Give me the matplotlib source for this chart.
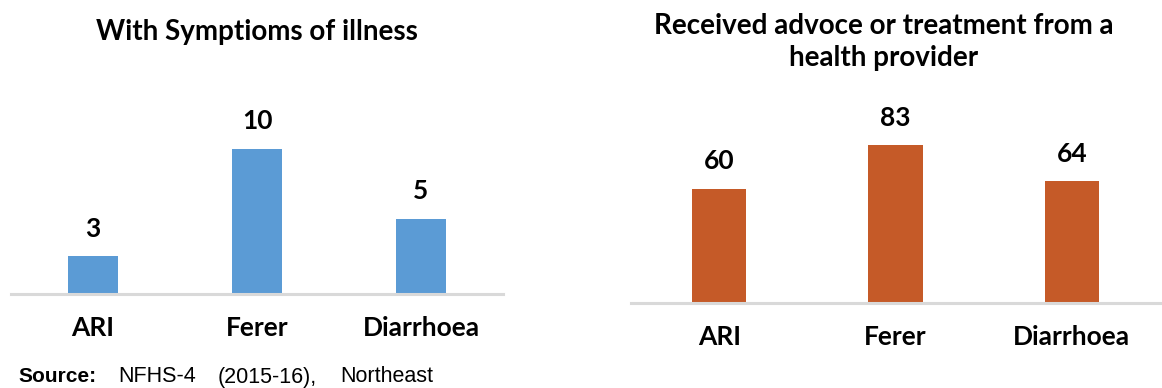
import matplotlib.pyplot as plt

# data
categories = ["ARI", "Ferer", "Diarrhoea"]
symptoms = [2.6, 10.0, 5.2]       # labelled 3, 10, 5
treatment = [60, 83, 64]

title_left = "With Symptioms of illness"
title_right = "Received advoce or treatment from a\nhealth provider"
source_parts = ["NFHS-4", "(2015-16),", "Northeast"]

BLUE = "#5B9BD5"
ORANGE = "#C55A28"
AXIS_GREY = "#D9D9D9"
FONT = ["Lato", "DejaVu Sans"]

W, H = 1162, 388
fig = plt.figure(figsize=(W / 100, H / 100), dpi=100)


def px_axes(x0, x1, y_base, y_top):
    # pixel box (from top-left) -> figure fraction
    return fig.add_axes([x0 / W, (H - y_base) / H, (x1 - x0) / W, (y_base - y_top) / H])


def bar_panel(ax, values, color, ymax, fmt):
    x = range(len(categories))
    bars = ax.bar(x, values, width=0.31, color=color, zorder=2)
    ax.set_xlim(-0.5, len(categories) - 0.5)
    ax.set_ylim(0, ymax)
    for s in ["top", "right", "left"]:
        ax.spines[s].set_visible(False)
    ax.spines["bottom"].set_color(AXIS_GREY)
    ax.spines["bottom"].set_linewidth(2.2)
    ax.set_yticks([])
    ax.set_xticks(list(x))
    ax.set_xticklabels(categories, fontsize=19, fontweight="bold", family=FONT)
    ax.tick_params(axis="x", length=0, pad=16)
    for b, v in zip(bars, values):
        ax.annotate(fmt(v), (b.get_x() + b.get_width() / 2, v), xytext=(0, 20),
                    textcoords="offset points", ha="center", va="center",
                    fontsize=19, fontweight="bold", family=FONT)


# left panel: 14.5 px per unit, baseline at y=294
ax1 = px_axes(11, 503, 294, 294 - 14.5 * 12)
bar_panel(ax1, symptoms, BLUE, 12, lambda v: f"{round(v):d}")

# right panel: 1.9 px per unit, baseline at y=303
ax2 = px_axes(631, 1160, 303, 303 - 1.9 * 90)
bar_panel(ax2, treatment, ORANGE, 90, lambda v: f"{v}")

fig.text(257 / W, 1 - 32 / H, title_left, ha="center", va="center",
         fontsize=20, fontweight="bold", family=FONT)
fig.text(884 / W, 1 - 42 / H, title_right, ha="center", va="center",
         fontsize=20, fontweight="bold", family=FONT, linespacing=1.3)

# source line, spaced out as in the original
fig.text(18 / W, 1 - 377 / H, "Source:", ha="left", va="center",
         fontsize=15, fontweight="bold", family="Liberation Sans")
for xp, part in zip([118, 218, 340], source_parts):
    fig.text(xp / W, 1 - 377 / H, part, ha="left", va="center",
             fontsize=15.5, family="Liberation Sans")

fig.savefig("out.png", dpi=100)
